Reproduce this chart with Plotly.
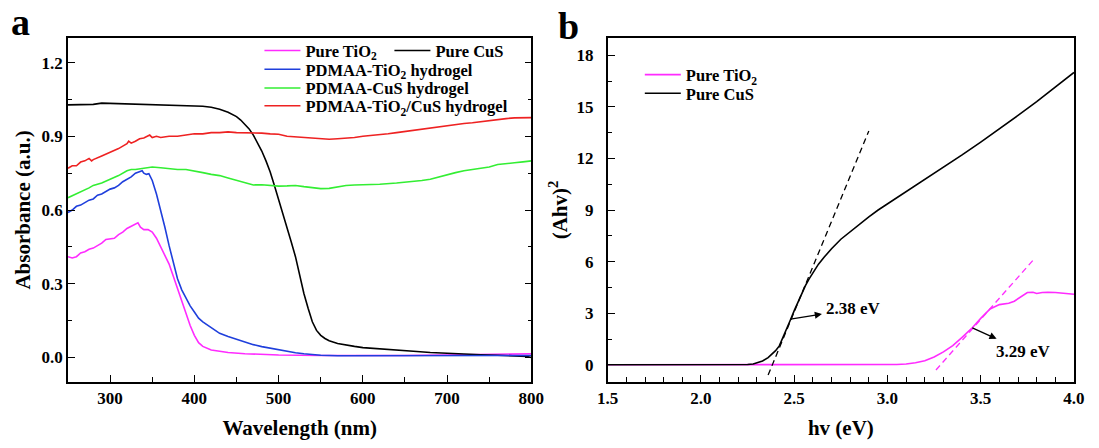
import plotly.graph_objects as go

# ---------------- data: panel a (UV-vis absorbance) ----------------
wl_tio2 = [250, 255, 260, 265, 270, 275, 280, 285, 290, 295, 300, 305, 310, 315, 320, 325, 330, 333, 336, 340,
           345, 350, 355, 360, 365, 370, 375, 380, 385, 390, 395, 400, 405, 410, 415, 420, 430, 440, 460, 480,
           500, 550, 600, 650, 700, 750, 780, 800]
abs_tio2 = [0.41, 0.405, 0.41, 0.425, 0.43, 0.44, 0.445, 0.455, 0.465, 0.48, 0.482, 0.485, 0.50, 0.51, 0.525,
            0.535, 0.545, 0.548, 0.53, 0.52, 0.52, 0.51, 0.485, 0.45, 0.42, 0.38, 0.33, 0.28, 0.225, 0.18, 0.13,
            0.09, 0.06, 0.045, 0.037, 0.03, 0.025, 0.02, 0.015, 0.012, 0.01, 0.008, 0.007, 0.008, 0.01, 0.012,
            0.015, 0.015]

wl_pdmaa_tio2 = [250, 255, 260, 265, 270, 275, 280, 285, 290, 295, 300, 305, 310, 315, 320, 325, 330, 335, 338,
                 340, 343, 346, 350, 355, 360, 365, 370, 375, 380, 385, 390, 395, 400, 405, 410, 420, 430, 440,
                 450, 460, 470, 480, 490, 500, 510, 520, 530, 540, 550, 570, 600, 650, 700, 750, 800]
abs_pdmaa_tio2 = [0.59, 0.60, 0.615, 0.62, 0.63, 0.64, 0.645, 0.66, 0.665, 0.675, 0.685, 0.69, 0.70, 0.715,
                  0.725, 0.735, 0.75, 0.758, 0.76, 0.75, 0.745, 0.748, 0.72, 0.665, 0.60, 0.53, 0.455, 0.385,
                  0.32, 0.275, 0.24, 0.21, 0.185, 0.16, 0.145, 0.12, 0.098, 0.085, 0.073, 0.062, 0.052, 0.044,
                  0.037, 0.031, 0.024, 0.019, 0.015, 0.012, 0.009, 0.007, 0.007, 0.008, 0.008, 0.008, 0.008]

wl_cus = [250, 260, 270, 280, 290, 300, 320, 340, 360, 380, 400, 410, 420, 430, 440, 450, 455, 460, 465, 470,
          475, 480, 485, 490, 495, 500, 505, 510, 515, 520, 525, 530, 535, 540, 545, 550, 555, 560, 570, 580,
          590, 600, 620, 640, 660, 680, 700, 720, 740, 760, 780, 795, 800]
abs_cus = [1.028, 1.028, 1.03, 1.03, 1.035, 1.034, 1.033, 1.032, 1.03, 1.028, 1.025, 1.022, 1.018, 1.01, 0.998,
           0.98, 0.966, 0.948, 0.93, 0.905, 0.875, 0.84, 0.80, 0.755, 0.70, 0.645, 0.59, 0.53, 0.47, 0.41, 0.33,
           0.26, 0.2, 0.145, 0.11, 0.09, 0.077, 0.068, 0.057, 0.05, 0.045, 0.04, 0.034, 0.03, 0.025, 0.02, 0.016,
           0.013, 0.011, 0.009, 0.007, 0.004, 0.0]

wl_pdmaa_cus = [250, 260, 270, 275, 280, 290, 300, 310, 320, 325, 330, 340, 350, 360, 370, 380, 390, 400, 410,
                420, 430, 440, 450, 460, 470, 480, 490, 500, 510, 520, 530, 540, 550, 560, 570, 580, 590, 600,
                620, 640, 660, 670, 680, 690, 700, 710, 720, 730, 740, 750, 760, 770, 780, 790, 800]
abs_pdmaa_cus = [0.65, 0.665, 0.68, 0.69, 0.70, 0.71, 0.725, 0.74, 0.76, 0.765, 0.765, 0.77, 0.775, 0.772,
                 0.768, 0.765, 0.765, 0.76, 0.752, 0.745, 0.74, 0.73, 0.72, 0.71, 0.702, 0.703, 0.70, 0.697,
                 0.698, 0.70, 0.695, 0.69, 0.687, 0.688, 0.695, 0.70, 0.702, 0.702, 0.705, 0.71, 0.715, 0.72,
                 0.725, 0.735, 0.745, 0.752, 0.76, 0.765, 0.77, 0.775, 0.785, 0.79, 0.792, 0.796, 0.80]

wl_pdmaa_tio2_cus = [250, 255, 260, 265, 270, 275, 278, 280, 290, 300, 305, 310, 315, 320, 322, 325, 330, 335,
                     340, 345, 347, 350, 355, 360, 370, 380, 390, 400, 410, 420, 430, 440, 450, 460, 470, 480,
                     490, 500, 510, 520, 530, 540, 550, 560, 570, 580, 590, 600, 610, 620, 630, 640, 650, 660,
                     670, 680, 690, 700, 710, 720, 730, 740, 750, 760, 770, 780, 790, 800]
abs_pdmaa_tio2_cus = [0.77, 0.78, 0.78, 0.795, 0.80, 0.81, 0.80, 0.805, 0.82, 0.835, 0.84, 0.85, 0.86, 0.87,
                      0.88, 0.872, 0.88, 0.89, 0.893, 0.90, 0.905, 0.895, 0.90, 0.895, 0.90, 0.90, 0.905, 0.91,
                      0.91, 0.915, 0.915, 0.918, 0.915, 0.915, 0.913, 0.913, 0.91, 0.908, 0.90, 0.898, 0.895,
                      0.892, 0.89, 0.888, 0.89, 0.892, 0.895, 0.90, 0.903, 0.905, 0.91, 0.915, 0.92, 0.925,
                      0.93, 0.935, 0.94, 0.945, 0.95, 0.952, 0.955, 0.96, 0.965, 0.968, 0.972, 0.975, 0.975, 0.976]

# ---------------- data: panel b (Tauc plot) ----------------
hv_tio2 = [1.5, 2.0, 2.5, 2.9, 3.0, 3.05, 3.1, 3.15, 3.2, 3.25, 3.3, 3.35, 3.4, 3.45, 3.5, 3.55, 3.6, 3.65,
           3.68, 3.72, 3.75, 3.78, 3.8, 3.83, 3.86, 3.9, 3.95, 4.0]
tauc_tio2 = [0.0, 0.0, 0.0, 0.0, 0.0, 0.02, 0.05, 0.12, 0.24, 0.45, 0.75, 1.12, 1.6, 2.1, 2.7, 3.25, 3.5, 3.58,
             3.7, 4.0, 4.2, 4.22, 4.15, 4.2, 4.22, 4.2, 4.13, 4.1]

hv_cus = [1.5, 1.8, 2.0, 2.2, 2.25, 2.28, 2.30, 2.33, 2.36, 2.38, 2.40, 2.42, 2.44, 2.46, 2.48, 2.50, 2.52,
          2.54, 2.56, 2.58, 2.60, 2.63, 2.66, 2.70, 2.75, 2.80, 2.85, 2.90, 2.95, 3.00, 3.10, 3.20, 3.30, 3.40,
          3.50, 3.60, 3.70, 3.80, 3.90, 4.00]
tauc_cus = [0.0, 0.0, 0.0, 0.0, 0.02, 0.05, 0.1, 0.22, 0.42, 0.6, 0.82, 1.1, 1.58, 2.1, 2.62, 3.15, 3.65, 4.15,
            4.6, 5.0, 5.35, 5.85, 6.25, 6.75, 7.3, 7.75, 8.2, 8.6, 9.0, 9.35, 10.1, 10.8, 11.45, 12.2, 12.95,
            13.7, 14.5, 15.3, 16.15, 17.0]

# linear-fit (tangent) lines used for band-gap extrapolation
fit_cus_hv = [2.36, 2.90]
fit_cus_y = [-0.6, 13.6]
fit_tio2_hv = [3.26, 3.79]
fit_tio2_y = [-0.3, 6.2]

# band-gap labels: text position and the point on the curve the arrow starts from
gap_labels = ["2.38 eV", "3.29 eV"]
gap_text_x = [2.82, 3.73]
gap_text_y = [3.25, 0.8]
gap_curve_x = [2.48, 3.455]
gap_curve_y = [2.65, 2.15]

MAGENTA = "#ff2bff"
BLUE = "#1f3fdc"
GREEN = "#33ee33"
RED = "#ee2222"
BLACK = "#000000"
FONT = "Liberation Serif"

fig = go.Figure()

def add_line(x, y, name, color, xa, ya, legend):
    fig.add_trace(go.Scatter(x=x, y=y, mode="lines", name=name, line=dict(color=color, width=1.6),
                             xaxis=xa, yaxis=ya, legend=legend))

add_line(wl_tio2, abs_tio2, "Pure TiO<sub>2</sub>", MAGENTA, "x", "y", "legend")
add_line(wl_cus, abs_cus, "Pure CuS", BLACK, "x", "y", "legend2")
add_line(wl_pdmaa_tio2, abs_pdmaa_tio2, "PDMAA-TiO<sub>2</sub> hydrogel", BLUE, "x", "y", "legend3")
add_line(wl_pdmaa_cus, abs_pdmaa_cus, "PDMAA-CuS hydrogel", GREEN, "x", "y", "legend4")
add_line(wl_pdmaa_tio2_cus, abs_pdmaa_tio2_cus, "PDMAA-TiO<sub>2</sub>/CuS hydrogel", RED, "x", "y", "legend5")

add_line(hv_tio2, tauc_tio2, "Pure TiO<sub>2</sub>", MAGENTA, "x2", "y2", "legend6")
add_line(hv_cus, tauc_cus, "Pure CuS", BLACK, "x2", "y2", "legend7")

fig.add_trace(go.Scatter(x=fit_cus_hv, y=fit_cus_y, mode="lines", showlegend=False,
                         line=dict(color=BLACK, width=1.3, dash="6px,4px"), xaxis="x2", yaxis="y2"))
fig.add_trace(go.Scatter(x=fit_tio2_hv, y=fit_tio2_y, mode="lines", showlegend=False,
                         line=dict(color=MAGENTA, width=1.3, dash="6px,4px"), xaxis="x2", yaxis="y2"))

tick_font = dict(family=FONT, size=17, color="black", weight="bold")
title_font = dict(family=FONT, size=21, color="black", weight="bold")

common_axis = dict(showline=True, linecolor="black", linewidth=1.6, showgrid=False, zeroline=False,
                   ticks="inside", ticklen=7, tickwidth=1.4, tickcolor="black", tickfont=tick_font)

fig.update_layout(
    width=1099, height=448,
    margin=dict(l=68, r=17, t=38, b=61),
    paper_bgcolor="white", plot_bgcolor="white",
    font=dict(family=FONT, color="black"),
    xaxis=dict(domain=[0, 0.4606], range=[250, 800], tick0=300, dtick=100, mirror=True,
               minor=dict(dtick=50, ticks="inside", ticklen=5, tickwidth=1.2, tickcolor="black"),
               title=dict(text="<b>Wavelength (nm)</b>", font=title_font, standoff=13), **common_axis),
    yaxis=dict(domain=[0, 1], range=[-0.1, 1.3], tick0=0, dtick=0.3, tickformat=".1f", mirror="ticks",
               minor=dict(dtick=0.15, ticks="inside", ticklen=4, tickwidth=1.2, tickcolor="black"),
               title=dict(text="<b>Absorbance (a.u.)</b>", font=title_font, standoff=5), anchor="x",
               **common_axis),
    xaxis2=dict(domain=[0.5365, 1], range=[1.5, 4.0], tick0=1.5, dtick=0.5, tickformat=".1f", mirror=True,
                minor=dict(dtick=0.1, ticks="inside", ticklen=5, tickwidth=1.2, tickcolor="black"),
                title=dict(text="<b>hv (eV)</b>", font=title_font, standoff=13), anchor="y2",
                **common_axis),
    yaxis2=dict(domain=[0, 1], range=[-1, 19], tick0=0, dtick=3, mirror=True,
                minor=dict(dtick=1.5, ticks="inside", ticklen=4, tickwidth=1.2, tickcolor="black"),
                title=dict(text="<b>(Ahv)<sup>2</sup></b>", font=title_font, standoff=3), anchor="x2",
                ticklabelstandoff=9, **common_axis),
)

legend_font = dict(family=FONT, size=16.5, color="black", weight="bold")
legend_pos = {
    "legend": (0.1903, 0.9628),
    "legend2": (0.3195, 0.9628),
    "legend3": (0.1903, 0.9083),
    "legend4": (0.1903, 0.8539),
    "legend5": (0.1903, 0.8023),
    "legend6": (0.5684, 0.8926),
    "legend7": (0.5684, 0.8387),
}
for key, (lx, ly) in legend_pos.items():
    fig.update_layout({key: dict(x=lx, y=ly, xanchor="left", yanchor="middle", bgcolor="rgba(0,0,0,0)",
                                 borderwidth=0, font=legend_font, itemwidth=36)})

# band-gap labels with arrows pointing from the curve towards the label
for i in range(len(gap_labels)):
    fig.add_annotation(x=gap_curve_x[i], y=gap_curve_y[i], ax=gap_text_x[i], ay=gap_text_y[i],
                       xref="x2", yref="y2", axref="x2", ayref="y2", text="<b>%s</b>" % gap_labels[i],
                       showarrow=True, arrowside="start", startarrowhead=2, startarrowsize=1.1,
                       arrowwidth=1.3, arrowcolor="black", startstandoff=3,
                       font=dict(family=FONT, size=17, color="black"))

# panel labels
fig.add_annotation(x=-0.0473, y=1.047, xref="paper", yref="paper", text="<b>a</b>", showarrow=False,
                   xanchor="center", yanchor="middle", font=dict(family=FONT, size=38, color="black"))
fig.add_annotation(x=0.498, y=1.036, xref="paper", yref="paper", text="<b>b</b>", showarrow=False,
                   xanchor="center", yanchor="middle", font=dict(family=FONT, size=38, color="black"))

fig.write_html("out.html")
